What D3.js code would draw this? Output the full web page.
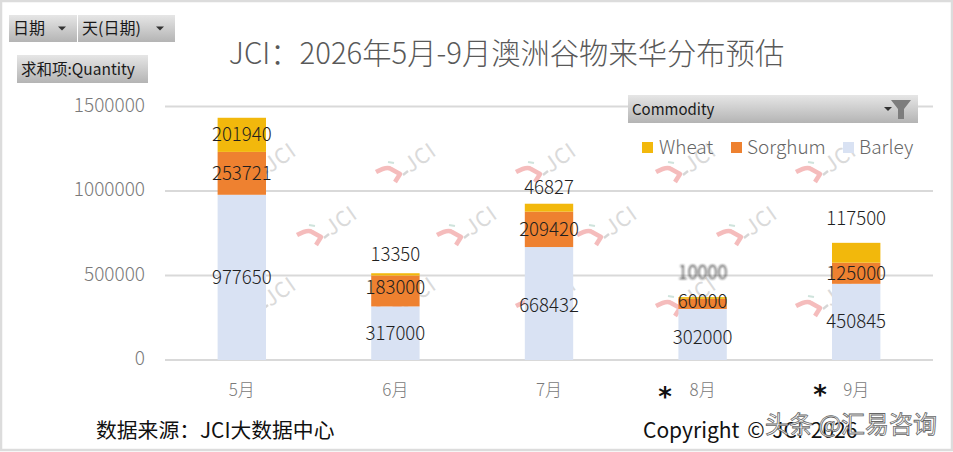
<!DOCTYPE html>
<html lang="zh">
<head>
<meta charset="utf-8">
<script src="https://cdn.jsdelivr.net/npm/d3@7"></script>
<style>
html,body{margin:0;padding:0;background:#fff;overflow:hidden}
svg{display:block}
text{font-family:"Noto Sans CJK SC","Noto Sans",sans-serif}
.light{font-weight:300}
</style>
</head>
<body>
<svg id="c" width="953" height="452"></svg>
<script>
const categories = ["5月","6月","7月","8月","9月"];
const barley  = [977650,317000,668432,302000,450845];
const sorghum = [253721,183000,209420,60000,125000];
const wheat   = [201940,13350,46827,10000,117500];
const seriesNames = ["Barley","Sorghum","Wheat"];
const yTicks = [0,500000,1000000,1500000];
const legendOrder = ["Wheat","Sorghum","Barley"];

const colors = {Wheat:"#f2b80c",Sorghum:"#ee8130",Barley:"#d9e2f3"};
// label nudges (px) per series/category, as placed by hand in the source chart
const nudge = {
  Barley:[0,0,2,3,0],
  Sorghum:[0,-3,0,-2,0],
  Wheat:[0,-20,-20,-25,-34]
};

const svg = d3.select("#c");
const defs = svg.append("defs");
const g = defs.append("linearGradient").attr("id","btn").attr("x1",0).attr("x2",0).attr("y1",0).attr("y2",1);
g.append("stop").attr("offset",0).attr("stop-color","#e6e6e6");
g.append("stop").attr("offset",1).attr("stop-color","#b4b4b4");
defs.append("filter").attr("id","blur").append("feGaussianBlur").attr("stdDeviation",0.9);

const x = d3.scaleBand().domain(categories).range([165,933]).paddingInner(0.685).paddingOuter(0.3425);
const y = d3.scaleLinear().domain([0,1500000]).range([360,106.5]);

// frame
svg.append("rect").attr("x",1).attr("y",1).attr("width",951).attr("height",449)
  .attr("fill","#fff").attr("stroke","#dcdcdc").attr("stroke-width",2.5);

// gridlines
svg.append("g").selectAll("line").data(yTicks).join("line")
  .attr("x1",165).attr("x2",933).attr("y1",d=>y(d)).attr("y2",d=>y(d))
  .attr("stroke","#d9d9d9").attr("stroke-width",2);

// watermark
const wmRows = [174,237,308];
const wmCols = {174:[257,397,537,677,817],237:[318,458,598,738],308:[257,397,537,677,817]};
wmRows.forEach(r=>wmCols[r].forEach(c=>{
  const w = svg.append("g").attr("transform",`translate(${c},${r})`);
  w.append("path").attr("d","M-21,-2 Q-10,-8 -6,-5 L3,0 L-2,8").attr("fill","none")
    .attr("stroke","#f5bcbc").attr("stroke-width",4.5).attr("stroke-linejoin","round");
  w.append("path").attr("d","M-9,-12 L-3,-11").attr("stroke","#cfe3dc").attr("stroke-width",2);
  w.append("path").attr("d","M6,1 L11,-3").attr("stroke","#d6d6d6").attr("stroke-width",2.5);
  w.append("text").attr("transform","translate(24,-15) rotate(-35)").attr("text-anchor","middle")
    .attr("dominant-baseline","middle").attr("font-size",21).attr("fill","#dadada").attr("letter-spacing",1).text("JCI");
}));

// stacked bars
const rows = categories.map((c,i)=>({cat:c,Barley:barley[i],Sorghum:sorghum[i],Wheat:wheat[i]}));
const stacked = d3.stack().keys(seriesNames)(rows);
svg.append("g").selectAll("g").data(stacked).join("g").attr("fill",d=>colors[d.key])
  .selectAll("rect").data(d=>d).join("rect")
  .attr("x",d=>x(d.data.cat)).attr("width",x.bandwidth())
  .attr("y",d=>y(d[1])).attr("height",d=>y(d[0])-y(d[1]));

// y axis
const ya = svg.append("g").attr("transform","translate(145,-1)")
  .call(d3.axisLeft(y).tickValues(yTicks).tickSize(0).tickPadding(0).tickFormat(d3.format("d")));
ya.select(".domain").remove();
ya.selectAll("text").attr("class","light").attr("font-size",19).attr("fill","#7a7a7a").attr("dy","0.3em")
  .style("font-family",'"Noto Sans CJK SC"');

// x axis
const xa = svg.append("g").attr("transform","translate(0,384)")
  .call(d3.axisBottom(x).tickSize(0).tickPadding(0));
xa.select(".domain").remove();
xa.selectAll("text").attr("class","light").attr("font-size",17).attr("fill","#7a7a7a").attr("dy","0.7em")
  .style("font-family",'"Noto Sans CJK SC"');

// data labels
const lab = svg.append("g");
stacked.forEach(s=>{
  lab.selectAll(null).data(s).join("text")
    .attr("class","light")
    .attr("x",d=>x(d.data.cat)+x.bandwidth()/2)
    .attr("y",(d,i)=>(y(d[0])+y(d[1]))/2+nudge[s.key][i]+6.5)
    .attr("text-anchor","middle").attr("font-size",18.6).attr("fill","#1f1f1f")
    .attr("filter",(d,i)=>(s.key==="Wheat"&&i===3)?"url(#blur)":null)
    .text(d=>d[1]-d[0]);
});

// title
svg.append("text").attr("class","light").attr("x",506.5).attr("y",64).attr("text-anchor","middle")
  .attr("font-size",29.3).attr("fill","#595959").text("JCI：2026年5月-9月澳洲谷物来华分布预估");

// pivot buttons
function btn(bx,by,bw,bh,label,arrow,size){
  svg.append("rect").attr("x",bx).attr("y",by).attr("width",bw).attr("height",bh).attr("fill","url(#btn)");
  svg.append("text").attr("x",bx+4).attr("y",by+bh/2+5.5).attr("font-size",size).attr("fill","#1a1a1a").text(label);
  if(arrow!=null) svg.append("path").attr("d",`M${arrow},${by+bh/2-2} h8 l-4,4 z`).attr("fill","#333");
}
btn(9,15,68,27,"日期",58,16);
btn(78,15,97,27,"天(日期)",156,16);
btn(17,55,131,28,"求和项:Quantity",null,15.5);
btn(628,95,290,28,"Commodity",884,15);
svg.append("path").attr("d","M891,100 H911 L904,109 V119 H898 V109 Z").attr("fill","#7d7d7d");

// legend
const legendSquareX = [642,731,843];
const legendTextX = [659,747,859];
legendOrder.forEach((k,i)=>{
  svg.append("rect").attr("x",legendSquareX[i]).attr("y",142).attr("width",11).attr("height",11).attr("fill",colors[k]);
  svg.append("text").attr("class","light").attr("x",legendTextX[i]).attr("y",154).attr("font-size",19)
    .attr("fill","#666").text(k);
});

// footer
svg.append("text").attr("x",96).attr("y",438).attr("font-size",20.8).attr("fill","#111").text("数据来源：JCI大数据中心");
svg.append("text").attr("x",643).attr("y",438).attr("font-size",21).attr("fill","#111").attr("word-spacing",3).text("Copyright © JCI 2026");
[[665,406],[820,404]].forEach(p=>svg.append("text").attr("x",p[0]).attr("y",p[1])
  .attr("text-anchor","middle").style("font-family","DejaVu Sans").attr("font-size",26).attr("font-weight",700).attr("fill","#111").text("*"));
svg.append("text").attr("x",765).attr("y",433).attr("font-size",24).attr("fill","#fff").attr("stroke","#666")
  .attr("stroke-width",0.8).text("头条 @汇易咨询");
</script>
</body>
</html>
